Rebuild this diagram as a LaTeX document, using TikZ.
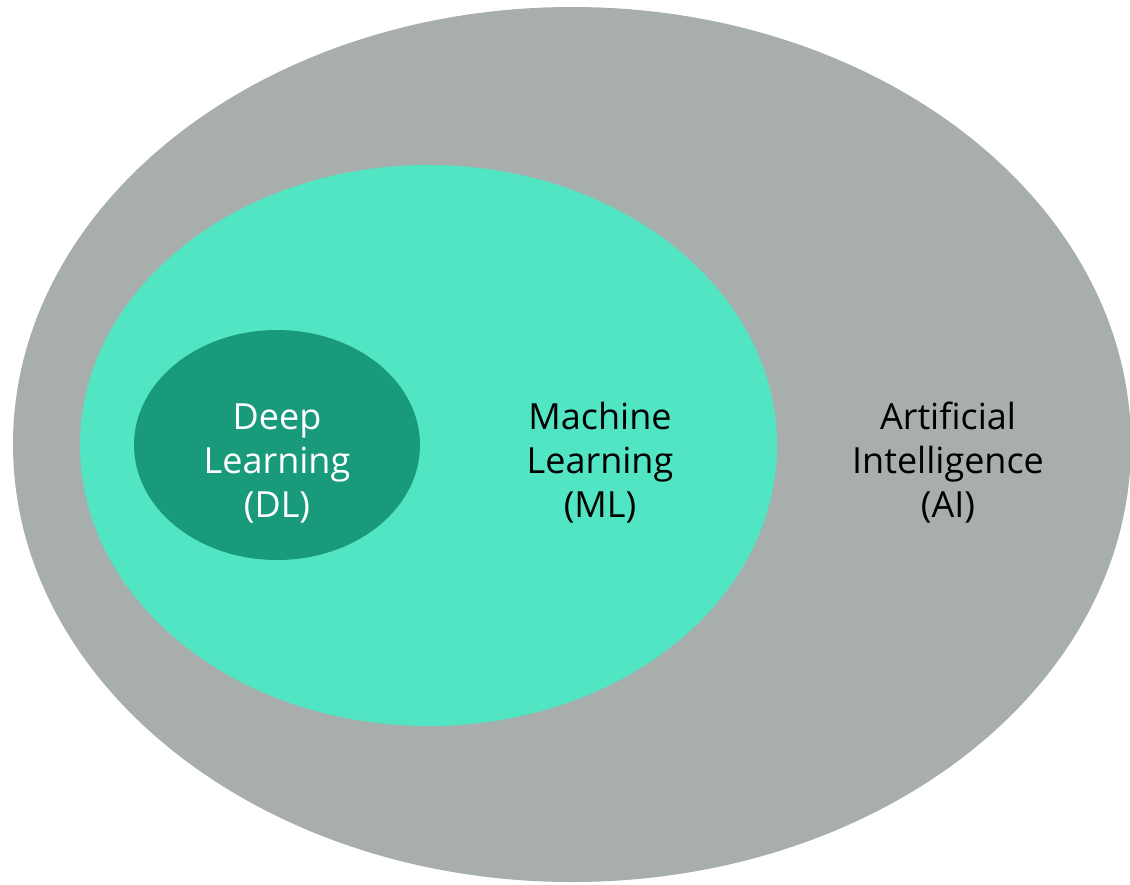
\documentclass[tikz,border=0pt]{standalone}
\usepackage{fontspec}
\setmainfont{Open Sans}
\usetikzlibrary{shapes.geometric}
\definecolor{aigray}{HTML}{A7AEAC}
\definecolor{mlmint}{HTML}{52E5C4}
\definecolor{dlgreen}{HTML}{199B7B}
\tikzset{
  region/.style={ellipse, inner sep=0pt, draw=none},
  label/.style={align=center, inner sep=0pt,
    font=\fontsize{36}{44}\selectfont},
}
\begin{document}
\begin{tikzpicture}[x=1pt,y=-1pt]
  \useasboundingbox (0,0) rectangle (1130,884);
  \begin{scope}
    \clip (0,0) rectangle (1130,884);
    % nested sets
    \node[region, fill=aigray, minimum width=1118pt, minimum height=875pt] (ai) at (572,444.5) {};
    \node[region, fill=mlmint, minimum width=697pt, minimum height=561pt] (ml) at (428.5,445.5) {};
    \node[region, fill=dlgreen, minimum width=286pt, minimum height=230pt] (dl) at (277,445) {};
  \end{scope}
  % labels
  \node[label, text=white] (dltext) at (277,463.5) {Deep\\Learning\\(DL)};
  \node[label, text=black] (mltext) at (600,463) {Machine\\Learning\\(ML)};
  \node[label, text=black] (aitext) at (948,463) {Artificial\\Intelligence\\(AI)};
\end{tikzpicture}
\end{document}
